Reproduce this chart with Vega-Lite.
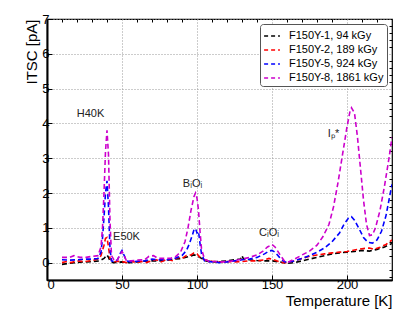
{
  "$schema": "https://vega.github.io/schema/vega-lite/v6.json",
  "width": 345,
  "height": 261,
  "autosize": {"type": "none"},
  "padding": {"left": 47, "top": 19, "right": 15, "bottom": 46},
  "background": "white",
  "config": {
    "font": "Liberation Sans",
    "view": {"stroke": "black", "strokeWidth": 1.2},
    "axis": {"labelFont": "Liberation Sans", "titleFont": "Liberation Sans", "labelColor": "black", "titleColor": "black", "titleFontWeight": "normal"}
  },
  "datasets": {
    "curves": [
      {"s":"F150Y-1, 94 kGy","T":10,"I":-0.05},{"s":"F150Y-1, 94 kGy","T":15,"I":-0.02},{"s":"F150Y-1, 94 kGy","T":20,"I":0.0},{"s":"F150Y-1, 94 kGy","T":25,"I":0.02},{"s":"F150Y-1, 94 kGy","T":30,"I":0.03},{"s":"F150Y-1, 94 kGy","T":35,"I":0.05},{"s":"F150Y-1, 94 kGy","T":38,"I":0.12},{"s":"F150Y-1, 94 kGy","T":40,"I":0.22},{"s":"F150Y-1, 94 kGy","T":41,"I":0.15},{"s":"F150Y-1, 94 kGy","T":42,"I":0.05},{"s":"F150Y-1, 94 kGy","T":44,"I":0.0},{"s":"F150Y-1, 94 kGy","T":50,"I":0.02},{"s":"F150Y-1, 94 kGy","T":55,"I":0.0},{"s":"F150Y-1, 94 kGy","T":60,"I":0.02},{"s":"F150Y-1, 94 kGy","T":65,"I":0.04},{"s":"F150Y-1, 94 kGy","T":70,"I":0.05},{"s":"F150Y-1, 94 kGy","T":75,"I":0.05},{"s":"F150Y-1, 94 kGy","T":80,"I":0.07},{"s":"F150Y-1, 94 kGy","T":85,"I":0.1},{"s":"F150Y-1, 94 kGy","T":90,"I":0.12},{"s":"F150Y-1, 94 kGy","T":95,"I":0.18},{"s":"F150Y-1, 94 kGy","T":98,"I":0.22},{"s":"F150Y-1, 94 kGy","T":100,"I":0.2},{"s":"F150Y-1, 94 kGy","T":103,"I":0.12},{"s":"F150Y-1, 94 kGy","T":106,"I":0.05},{"s":"F150Y-1, 94 kGy","T":110,"I":0.02},{"s":"F150Y-1, 94 kGy","T":115,"I":0.03},{"s":"F150Y-1, 94 kGy","T":120,"I":0.05},{"s":"F150Y-1, 94 kGy","T":125,"I":0.08},{"s":"F150Y-1, 94 kGy","T":129,"I":0.1},{"s":"F150Y-1, 94 kGy","T":130,"I":0.2},{"s":"F150Y-1, 94 kGy","T":131,"I":0.1},{"s":"F150Y-1, 94 kGy","T":135,"I":0.08},{"s":"F150Y-1, 94 kGy","T":140,"I":0.06},{"s":"F150Y-1, 94 kGy","T":145,"I":0.05},{"s":"F150Y-1, 94 kGy","T":150,"I":0.05},{"s":"F150Y-1, 94 kGy","T":155,"I":0.02},{"s":"F150Y-1, 94 kGy","T":160,"I":-0.02},{"s":"F150Y-1, 94 kGy","T":165,"I":0.0},{"s":"F150Y-1, 94 kGy","T":170,"I":0.05},{"s":"F150Y-1, 94 kGy","T":175,"I":0.1},{"s":"F150Y-1, 94 kGy","T":180,"I":0.15},{"s":"F150Y-1, 94 kGy","T":185,"I":0.2},{"s":"F150Y-1, 94 kGy","T":190,"I":0.25},{"s":"F150Y-1, 94 kGy","T":195,"I":0.28},{"s":"F150Y-1, 94 kGy","T":200,"I":0.3},{"s":"F150Y-1, 94 kGy","T":205,"I":0.32},{"s":"F150Y-1, 94 kGy","T":210,"I":0.35},{"s":"F150Y-1, 94 kGy","T":215,"I":0.33},{"s":"F150Y-1, 94 kGy","T":220,"I":0.38},{"s":"F150Y-1, 94 kGy","T":225,"I":0.45},{"s":"F150Y-1, 94 kGy","T":230,"I":0.55},

      {"s":"F150Y-2, 189 kGy","T":10,"I":0.0},{"s":"F150Y-2, 189 kGy","T":13,"I":0.03},{"s":"F150Y-2, 189 kGy","T":16,"I":0.0},{"s":"F150Y-2, 189 kGy","T":20,"I":0.05},{"s":"F150Y-2, 189 kGy","T":25,"I":0.03},{"s":"F150Y-2, 189 kGy","T":30,"I":0.06},{"s":"F150Y-2, 189 kGy","T":34,"I":0.1},{"s":"F150Y-2, 189 kGy","T":36,"I":0.2},{"s":"F150Y-2, 189 kGy","T":38,"I":0.5},{"s":"F150Y-2, 189 kGy","T":39,"I":0.7},{"s":"F150Y-2, 189 kGy","T":40,"I":0.72},{"s":"F150Y-2, 189 kGy","T":41,"I":0.45},{"s":"F150Y-2, 189 kGy","T":42,"I":0.12},{"s":"F150Y-2, 189 kGy","T":44,"I":0.02},{"s":"F150Y-2, 189 kGy","T":47,"I":0.04},{"s":"F150Y-2, 189 kGy","T":50,"I":0.03},{"s":"F150Y-2, 189 kGy","T":53,"I":0.0},{"s":"F150Y-2, 189 kGy","T":56,"I":0.04},{"s":"F150Y-2, 189 kGy","T":60,"I":0.0},{"s":"F150Y-2, 189 kGy","T":63,"I":0.03},{"s":"F150Y-2, 189 kGy","T":66,"I":0.0},{"s":"F150Y-2, 189 kGy","T":70,"I":0.05},{"s":"F150Y-2, 189 kGy","T":73,"I":0.08},{"s":"F150Y-2, 189 kGy","T":76,"I":0.02},{"s":"F150Y-2, 189 kGy","T":80,"I":0.1},{"s":"F150Y-2, 189 kGy","T":84,"I":0.05},{"s":"F150Y-2, 189 kGy","T":87,"I":0.15},{"s":"F150Y-2, 189 kGy","T":90,"I":0.12},{"s":"F150Y-2, 189 kGy","T":93,"I":0.2},{"s":"F150Y-2, 189 kGy","T":96,"I":0.22},{"s":"F150Y-2, 189 kGy","T":98,"I":0.28},{"s":"F150Y-2, 189 kGy","T":100,"I":0.25},{"s":"F150Y-2, 189 kGy","T":102,"I":0.15},{"s":"F150Y-2, 189 kGy","T":105,"I":0.08},{"s":"F150Y-2, 189 kGy","T":110,"I":0.04},{"s":"F150Y-2, 189 kGy","T":115,"I":0.02},{"s":"F150Y-2, 189 kGy","T":120,"I":0.03},{"s":"F150Y-2, 189 kGy","T":125,"I":0.02},{"s":"F150Y-2, 189 kGy","T":130,"I":0.03},{"s":"F150Y-2, 189 kGy","T":135,"I":0.05},{"s":"F150Y-2, 189 kGy","T":140,"I":0.05},{"s":"F150Y-2, 189 kGy","T":145,"I":0.08},{"s":"F150Y-2, 189 kGy","T":148,"I":0.12},{"s":"F150Y-2, 189 kGy","T":150,"I":0.1},{"s":"F150Y-2, 189 kGy","T":153,"I":0.05},{"s":"F150Y-2, 189 kGy","T":157,"I":0.0},{"s":"F150Y-2, 189 kGy","T":160,"I":0.0},{"s":"F150Y-2, 189 kGy","T":165,"I":0.05},{"s":"F150Y-2, 189 kGy","T":170,"I":0.12},{"s":"F150Y-2, 189 kGy","T":175,"I":0.18},{"s":"F150Y-2, 189 kGy","T":180,"I":0.22},{"s":"F150Y-2, 189 kGy","T":185,"I":0.25},{"s":"F150Y-2, 189 kGy","T":190,"I":0.28},{"s":"F150Y-2, 189 kGy","T":195,"I":0.3},{"s":"F150Y-2, 189 kGy","T":200,"I":0.32},{"s":"F150Y-2, 189 kGy","T":205,"I":0.36},{"s":"F150Y-2, 189 kGy","T":210,"I":0.4},{"s":"F150Y-2, 189 kGy","T":215,"I":0.42},{"s":"F150Y-2, 189 kGy","T":218,"I":0.38},{"s":"F150Y-2, 189 kGy","T":222,"I":0.44},{"s":"F150Y-2, 189 kGy","T":226,"I":0.52},{"s":"F150Y-2, 189 kGy","T":230,"I":0.65},

      {"s":"F150Y-5, 924 kGy","T":10,"I":0.08},{"s":"F150Y-5, 924 kGy","T":15,"I":0.07},{"s":"F150Y-5, 924 kGy","T":20,"I":0.08},{"s":"F150Y-5, 924 kGy","T":25,"I":0.1},{"s":"F150Y-5, 924 kGy","T":30,"I":0.1},{"s":"F150Y-5, 924 kGy","T":34,"I":0.12},{"s":"F150Y-5, 924 kGy","T":36,"I":0.3},{"s":"F150Y-5, 924 kGy","T":37,"I":0.7},{"s":"F150Y-5, 924 kGy","T":38,"I":1.3},{"s":"F150Y-5, 924 kGy","T":39,"I":2.0},{"s":"F150Y-5, 924 kGy","T":40,"I":2.35},{"s":"F150Y-5, 924 kGy","T":41,"I":1.6},{"s":"F150Y-5, 924 kGy","T":42,"I":0.4},{"s":"F150Y-5, 924 kGy","T":43,"I":0.05},{"s":"F150Y-5, 924 kGy","T":45,"I":0.02},{"s":"F150Y-5, 924 kGy","T":47,"I":0.08},{"s":"F150Y-5, 924 kGy","T":49,"I":0.28},{"s":"F150Y-5, 924 kGy","T":50,"I":0.35},{"s":"F150Y-5, 924 kGy","T":51,"I":0.25},{"s":"F150Y-5, 924 kGy","T":53,"I":0.05},{"s":"F150Y-5, 924 kGy","T":56,"I":0.02},{"s":"F150Y-5, 924 kGy","T":60,"I":0.04},{"s":"F150Y-5, 924 kGy","T":65,"I":0.05},{"s":"F150Y-5, 924 kGy","T":70,"I":0.1},{"s":"F150Y-5, 924 kGy","T":75,"I":0.08},{"s":"F150Y-5, 924 kGy","T":80,"I":0.08},{"s":"F150Y-5, 924 kGy","T":85,"I":0.12},{"s":"F150Y-5, 924 kGy","T":90,"I":0.2},{"s":"F150Y-5, 924 kGy","T":93,"I":0.35},{"s":"F150Y-5, 924 kGy","T":95,"I":0.55},{"s":"F150Y-5, 924 kGy","T":97,"I":0.8},{"s":"F150Y-5, 924 kGy","T":98,"I":0.95},{"s":"F150Y-5, 924 kGy","T":99,"I":0.98},{"s":"F150Y-5, 924 kGy","T":100,"I":0.85},{"s":"F150Y-5, 924 kGy","T":101,"I":0.9},{"s":"F150Y-5, 924 kGy","T":102,"I":0.55},{"s":"F150Y-5, 924 kGy","T":103,"I":0.25},{"s":"F150Y-5, 924 kGy","T":105,"I":0.05},{"s":"F150Y-5, 924 kGy","T":110,"I":0.02},{"s":"F150Y-5, 924 kGy","T":115,"I":0.0},{"s":"F150Y-5, 924 kGy","T":120,"I":0.02},{"s":"F150Y-5, 924 kGy","T":125,"I":0.05},{"s":"F150Y-5, 924 kGy","T":130,"I":0.08},{"s":"F150Y-5, 924 kGy","T":135,"I":0.1},{"s":"F150Y-5, 924 kGy","T":140,"I":0.15},{"s":"F150Y-5, 924 kGy","T":145,"I":0.25},{"s":"F150Y-5, 924 kGy","T":148,"I":0.33},{"s":"F150Y-5, 924 kGy","T":150,"I":0.35},{"s":"F150Y-5, 924 kGy","T":152,"I":0.3},{"s":"F150Y-5, 924 kGy","T":155,"I":0.15},{"s":"F150Y-5, 924 kGy","T":158,"I":0.03},{"s":"F150Y-5, 924 kGy","T":160,"I":0.0},{"s":"F150Y-5, 924 kGy","T":165,"I":0.05},{"s":"F150Y-5, 924 kGy","T":170,"I":0.12},{"s":"F150Y-5, 924 kGy","T":175,"I":0.2},{"s":"F150Y-5, 924 kGy","T":180,"I":0.3},{"s":"F150Y-5, 924 kGy","T":185,"I":0.42},{"s":"F150Y-5, 924 kGy","T":190,"I":0.6},{"s":"F150Y-5, 924 kGy","T":195,"I":0.85},{"s":"F150Y-5, 924 kGy","T":198,"I":1.1},{"s":"F150Y-5, 924 kGy","T":201,"I":1.28},{"s":"F150Y-5, 924 kGy","T":203,"I":1.32},{"s":"F150Y-5, 924 kGy","T":205,"I":1.22},{"s":"F150Y-5, 924 kGy","T":208,"I":0.98},{"s":"F150Y-5, 924 kGy","T":211,"I":0.72},{"s":"F150Y-5, 924 kGy","T":214,"I":0.58},{"s":"F150Y-5, 924 kGy","T":217,"I":0.56},{"s":"F150Y-5, 924 kGy","T":220,"I":0.65},{"s":"F150Y-5, 924 kGy","T":223,"I":0.9},{"s":"F150Y-5, 924 kGy","T":226,"I":1.35},{"s":"F150Y-5, 924 kGy","T":228,"I":1.8},{"s":"F150Y-5, 924 kGy","T":230,"I":2.25},

      {"s":"F150Y-8, 1861 kGy","T":10,"I":0.15},{"s":"F150Y-8, 1861 kGy","T":15,"I":0.15},{"s":"F150Y-8, 1861 kGy","T":18,"I":0.2},{"s":"F150Y-8, 1861 kGy","T":22,"I":0.15},{"s":"F150Y-8, 1861 kGy","T":26,"I":0.15},{"s":"F150Y-8, 1861 kGy","T":30,"I":0.18},{"s":"F150Y-8, 1861 kGy","T":34,"I":0.2},{"s":"F150Y-8, 1861 kGy","T":36,"I":0.45},{"s":"F150Y-8, 1861 kGy","T":37,"I":1.0},{"s":"F150Y-8, 1861 kGy","T":38,"I":2.0},{"s":"F150Y-8, 1861 kGy","T":39,"I":3.2},{"s":"F150Y-8, 1861 kGy","T":40,"I":3.8},{"s":"F150Y-8, 1861 kGy","T":41,"I":3.1},{"s":"F150Y-8, 1861 kGy","T":42,"I":1.2},{"s":"F150Y-8, 1861 kGy","T":43,"I":0.2},{"s":"F150Y-8, 1861 kGy","T":45,"I":0.05},{"s":"F150Y-8, 1861 kGy","T":47,"I":0.08},{"s":"F150Y-8, 1861 kGy","T":49,"I":0.25},{"s":"F150Y-8, 1861 kGy","T":50,"I":0.32},{"s":"F150Y-8, 1861 kGy","T":51,"I":0.25},{"s":"F150Y-8, 1861 kGy","T":53,"I":0.05},{"s":"F150Y-8, 1861 kGy","T":56,"I":0.05},{"s":"F150Y-8, 1861 kGy","T":60,"I":0.07},{"s":"F150Y-8, 1861 kGy","T":65,"I":0.08},{"s":"F150Y-8, 1861 kGy","T":68,"I":0.18},{"s":"F150Y-8, 1861 kGy","T":71,"I":0.2},{"s":"F150Y-8, 1861 kGy","T":74,"I":0.12},{"s":"F150Y-8, 1861 kGy","T":78,"I":0.12},{"s":"F150Y-8, 1861 kGy","T":82,"I":0.12},{"s":"F150Y-8, 1861 kGy","T":86,"I":0.18},{"s":"F150Y-8, 1861 kGy","T":89,"I":0.3},{"s":"F150Y-8, 1861 kGy","T":92,"I":0.6},{"s":"F150Y-8, 1861 kGy","T":94,"I":1.0},{"s":"F150Y-8, 1861 kGy","T":96,"I":1.5},{"s":"F150Y-8, 1861 kGy","T":98,"I":1.9},{"s":"F150Y-8, 1861 kGy","T":99,"I":2.0},{"s":"F150Y-8, 1861 kGy","T":100,"I":1.85},{"s":"F150Y-8, 1861 kGy","T":101,"I":1.5},{"s":"F150Y-8, 1861 kGy","T":102,"I":0.9},{"s":"F150Y-8, 1861 kGy","T":103,"I":0.4},{"s":"F150Y-8, 1861 kGy","T":105,"I":0.1},{"s":"F150Y-8, 1861 kGy","T":108,"I":0.03},{"s":"F150Y-8, 1861 kGy","T":112,"I":0.03},{"s":"F150Y-8, 1861 kGy","T":116,"I":0.02},{"s":"F150Y-8, 1861 kGy","T":120,"I":0.03},{"s":"F150Y-8, 1861 kGy","T":125,"I":0.06},{"s":"F150Y-8, 1861 kGy","T":130,"I":0.1},{"s":"F150Y-8, 1861 kGy","T":135,"I":0.15},{"s":"F150Y-8, 1861 kGy","T":140,"I":0.22},{"s":"F150Y-8, 1861 kGy","T":144,"I":0.33},{"s":"F150Y-8, 1861 kGy","T":147,"I":0.45},{"s":"F150Y-8, 1861 kGy","T":150,"I":0.52},{"s":"F150Y-8, 1861 kGy","T":152,"I":0.45},{"s":"F150Y-8, 1861 kGy","T":155,"I":0.25},{"s":"F150Y-8, 1861 kGy","T":158,"I":0.06},{"s":"F150Y-8, 1861 kGy","T":161,"I":0.02},{"s":"F150Y-8, 1861 kGy","T":165,"I":0.1},{"s":"F150Y-8, 1861 kGy","T":170,"I":0.22},{"s":"F150Y-8, 1861 kGy","T":175,"I":0.33},{"s":"F150Y-8, 1861 kGy","T":180,"I":0.5},{"s":"F150Y-8, 1861 kGy","T":184,"I":0.75},{"s":"F150Y-8, 1861 kGy","T":188,"I":1.1},{"s":"F150Y-8, 1861 kGy","T":191,"I":1.6},{"s":"F150Y-8, 1861 kGy","T":194,"I":2.3},{"s":"F150Y-8, 1861 kGy","T":197,"I":3.1},{"s":"F150Y-8, 1861 kGy","T":200,"I":3.9},{"s":"F150Y-8, 1861 kGy","T":202,"I":4.35},{"s":"F150Y-8, 1861 kGy","T":203,"I":4.45},{"s":"F150Y-8, 1861 kGy","T":205,"I":4.3},{"s":"F150Y-8, 1861 kGy","T":207,"I":3.6},{"s":"F150Y-8, 1861 kGy","T":209,"I":2.7},{"s":"F150Y-8, 1861 kGy","T":211,"I":1.8},{"s":"F150Y-8, 1861 kGy","T":213,"I":1.1},{"s":"F150Y-8, 1861 kGy","T":215,"I":0.78},{"s":"F150Y-8, 1861 kGy","T":217,"I":0.8},{"s":"F150Y-8, 1861 kGy","T":219,"I":1.0},{"s":"F150Y-8, 1861 kGy","T":222,"I":1.5},{"s":"F150Y-8, 1861 kGy","T":225,"I":2.2},{"s":"F150Y-8, 1861 kGy","T":228,"I":3.0},{"s":"F150Y-8, 1861 kGy","T":230,"I":3.6}
    ],
    "notes": [
      {"T":29,"I":4.12,"label":"H40K"},
      {"T":53,"I":0.6,"label":"E50K"},
      {"T":97,"I":2.12,"label":"BᵢOᵢ"},
      {"T":148,"I":0.72,"label":"CᵢOᵢ"},
      {"T":191,"I":3.55,"label":"Iₚ*"}
    ]
  },
  "layer": [
    {
      "data": {"name": "curves"},
      "mark": {"type": "line", "strokeDash": [5, 3], "strokeWidth": 1.6, "clip": true},
      "encoding": {
        "x": {"field": "T", "type": "quantitative",
          "scale": {"domain": [0, 230], "nice": false, "zero": false},
          "axis": {"values": [0, 50, 100, 150, 200], "title": "Temperature [K]", "titleAnchor": "end", "titleFontSize": 15, "titlePadding": 2,
            "labelFontSize": 13, "labelPadding": 3, "tickSize": -5, "tickColor": "black", "tickWidth": 1,
            "domainColor": "black", "domainWidth": 2, "grid": true, "gridColor": "#999999", "gridDash": [1, 2], "gridWidth": 1}},
        "y": {"field": "I", "type": "quantitative",
          "scale": {"domain": [-0.5, 7], "nice": false, "zero": false},
          "axis": {"values": [0, 1, 2, 3, 4, 5, 6, 7], "title": "ITSC [pA]", "titleAnchor": "end", "titleFontSize": 15, "titlePadding": 2,
            "labelFontSize": 13, "labelPadding": 3, "tickSize": -5, "tickColor": "black", "tickWidth": 1,
            "domainColor": "black", "domainWidth": 2, "grid": true, "gridColor": "#999999", "gridDash": [1, 2], "gridWidth": 1}},
        "color": {"field": "s", "type": "nominal",
          "sort": ["F150Y-1, 94 kGy", "F150Y-2, 189 kGy", "F150Y-5, 924 kGy", "F150Y-8, 1861 kGy"],
          "scale": {"domain": ["F150Y-1, 94 kGy", "F150Y-2, 189 kGy", "F150Y-5, 924 kGy", "F150Y-8, 1861 kGy"], "range": ["#000000", "#ff0000", "#0000ff", "#cc00cc"]},
          "legend": {"title": null, "orient": "top-right", "offset": 5, "labelFontSize": 11, "labelColor": "black", "labelFont": "Liberation Sans", "labelOffset": 8,
            "symbolType": "stroke", "symbolDash": [4, 3], "symbolStrokeWidth": 1.6, "symbolSize": 250,
            "strokeColor": "#555555", "fillColor": "white", "cornerRadius": 3, "padding": 3, "rowPadding": 0}}
      }
    },
    {
      "data": {"name": "notes"},
      "mark": {"type": "text", "fontSize": 11, "color": "#222222", "font": "Liberation Sans", "align": "center", "baseline": "bottom"},
      "encoding": {
        "x": {"field": "T", "type": "quantitative",
          "axis": {"values": [10, 20, 30, 40, 60, 70, 80, 90, 110, 120, 130, 140, 160, 170, 180, 190, 210, 220], "labels": false, "title": null, "domain": false, "grid": false, "tickSize": -3, "tickColor": "black"}},
        "y": {"field": "I", "type": "quantitative",
          "axis": {"values": [-0.4, -0.2, 0.2, 0.4, 0.6, 0.8, 1.2, 1.4, 1.6, 1.8, 2.2, 2.4, 2.6, 2.8, 3.2, 3.4, 3.6, 3.8, 4.2, 4.4, 4.6, 4.8, 5.2, 5.4, 5.6, 5.8, 6.2, 6.4, 6.6, 6.8], "labels": false, "title": null, "domain": false, "grid": false, "tickSize": -3, "tickColor": "black"}},
        "text": {"field": "label"}
      }
    }
  ],
  "resolve": {"axis": {"x": "independent", "y": "independent"}}
}
